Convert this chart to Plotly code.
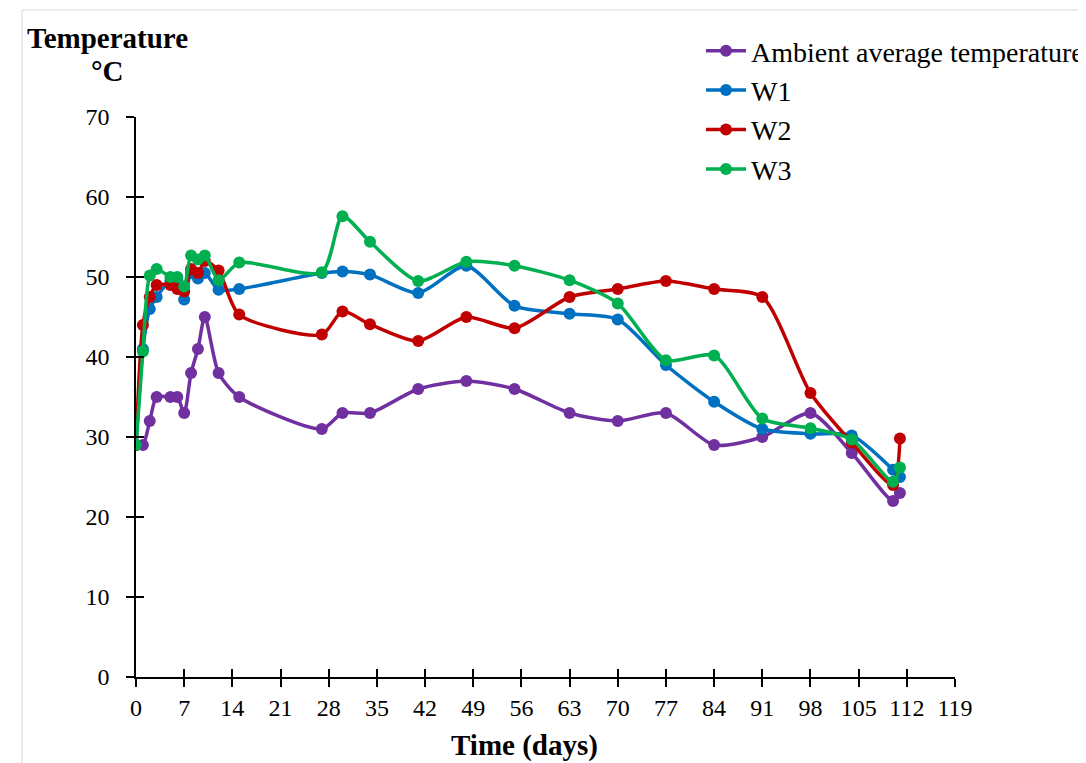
import plotly.graph_objects as go

days = [0, 1, 2, 3, 5, 6, 7, 8, 9, 10, 12, 15, 27, 30, 34, 41, 48, 55, 63, 70, 77, 84, 91, 98, 104, 110, 111]
ambient = [29, 29, 32, 35, 35, 35, 33, 38, 41, 45, 38, 35, 31, 33, 33, 36, 37, 36, 33, 32, 33, 29, 30, 33, 28, 22, 23]
w1 = [29, 41, 46, 47.5, 49.5, 49.5, 47.2, 50.5, 49.8, 50.5, 48.4, 48.5, 50.5, 50.7, 50.3, 48, 51.4, 46.4, 45.4, 44.7, 39, 34.4, 31, 30.4, 30.2, 25.9, 25]
w2 = [29, 44, 47.5, 49, 49, 48.5, 48.2, 51, 50.5, 52, 50.8, 45.3, 42.8, 45.7, 44.1, 42, 45, 43.6, 47.5, 48.5, 49.5, 48.5, 47.5, 35.5, 29.3, 24, 29.8]
w3 = [29, 40.7, 50.2, 51, 50, 50, 48.8, 52.7, 52.2, 52.7, 49.6, 51.8, 50.6, 57.6, 54.4, 49.5, 51.9, 51.4, 49.6, 46.7, 39.6, 40.2, 32.3, 31.1, 29.7, 24.4, 26.2]

series_names = ["Ambient average temperature", "W1", "W2", "W3"]
series_values = [ambient, w1, w2, w3]
series_colors = ["#7030A0", "#0070C0", "#C00000", "#00B050"]

x_ticks = list(range(0, 120, 7))
y_ticks = list(range(0, 71, 10))

FONT = "Liberation Serif"

# figure is drawn 8px in from the page's top-left corner
W, H = 1078, 755
L, R, T, B = 128, 131, 109, 86
PW, PH = W - L - R, H - T - B


def px(xp):
    return (xp - 8 - L) / PW


def py(yp):
    return (H - B - (yp - 8)) / PH


fig = go.Figure()
for name, vals, col in zip(series_names, series_values, series_colors):
    fig.add_trace(go.Scatter(
        x=days, y=vals, name=name, mode="lines+markers",
        line=dict(color=col, width=3.5, shape="spline", smoothing=0.7),
        marker=dict(color=col, size=12),
    ))

# invisible overlay axes to make tick marks cross the axis lines
fig.add_trace(go.Scatter(x=[None], y=[None], xaxis="x2", yaxis="y2", showlegend=False, hoverinfo="skip"))

axis_common = dict(showgrid=False, zeroline=False, showline=True, linecolor="black", linewidth=1.5,
                   tickwidth=1.5, tickcolor="black", ticklen=8)

fig.update_layout(
    width=W, height=H,
    margin=dict(l=L, r=R, t=T, b=B, autoexpand=False),
    paper_bgcolor="white", plot_bgcolor="white",
    font=dict(family=FONT, size=19, color="black"),
    showlegend=True,
    legend=dict(
        x=px(701), y=py(26),
        xanchor="left", yanchor="top",
        font=dict(family=FONT, size=28, color="black"),
        bgcolor="rgba(0,0,0,0)", tracegroupgap=0, itemwidth=40,
    ),
    xaxis=dict(
        range=[0, 119], tickmode="array", tickvals=x_ticks,
        ticktext=[str(v) for v in x_ticks], tickangle=0,
        ticks="outside", tickfont=dict(family=FONT, size=24), **axis_common,
    ),
    yaxis=dict(
        range=[0, 70], tickmode="array", tickvals=y_ticks,
        ticks="outside", tickfont=dict(family=FONT, size=24), ticklabelstandoff=12, **axis_common,
    ),
    xaxis2=dict(
        range=[0, 119], tickmode="array", tickvals=x_ticks, showticklabels=False,
        ticks="inside", overlaying="x", anchor="y", side="bottom", **axis_common,
    ),
    yaxis2=dict(
        range=[0, 70], tickmode="array", tickvals=y_ticks, showticklabels=False,
        ticks="inside", overlaying="y", anchor="x", side="left", **axis_common,
    ),
    annotations=[
        dict(text="<b>Time (days)</b>", xref="paper", yref="paper",
             x=px(524), y=py(745), xanchor="center", yanchor="middle",
             showarrow=False, font=dict(family=FONT, size=29)),
        dict(text="<b>Temperature</b>", xref="paper", yref="paper",
             x=px(107), y=py(38), xanchor="center", yanchor="middle",
             showarrow=False, font=dict(family=FONT, size=29)),
        dict(text="<b>°C</b>", xref="paper", yref="paper",
             x=px(107), y=py(71), xanchor="center", yanchor="middle",
             showarrow=False, font=dict(family=FONT, size=29)),
    ],
    shapes=[
        dict(type="rect", xref="paper", yref="paper",
             x0=px(22), x1=1.3, y0=-0.3, y1=py(10),
             line=dict(color="#d9d9d9", width=1), fillcolor="rgba(0,0,0,0)", layer="below"),
    ],
)

fig.write_html("out.html")
